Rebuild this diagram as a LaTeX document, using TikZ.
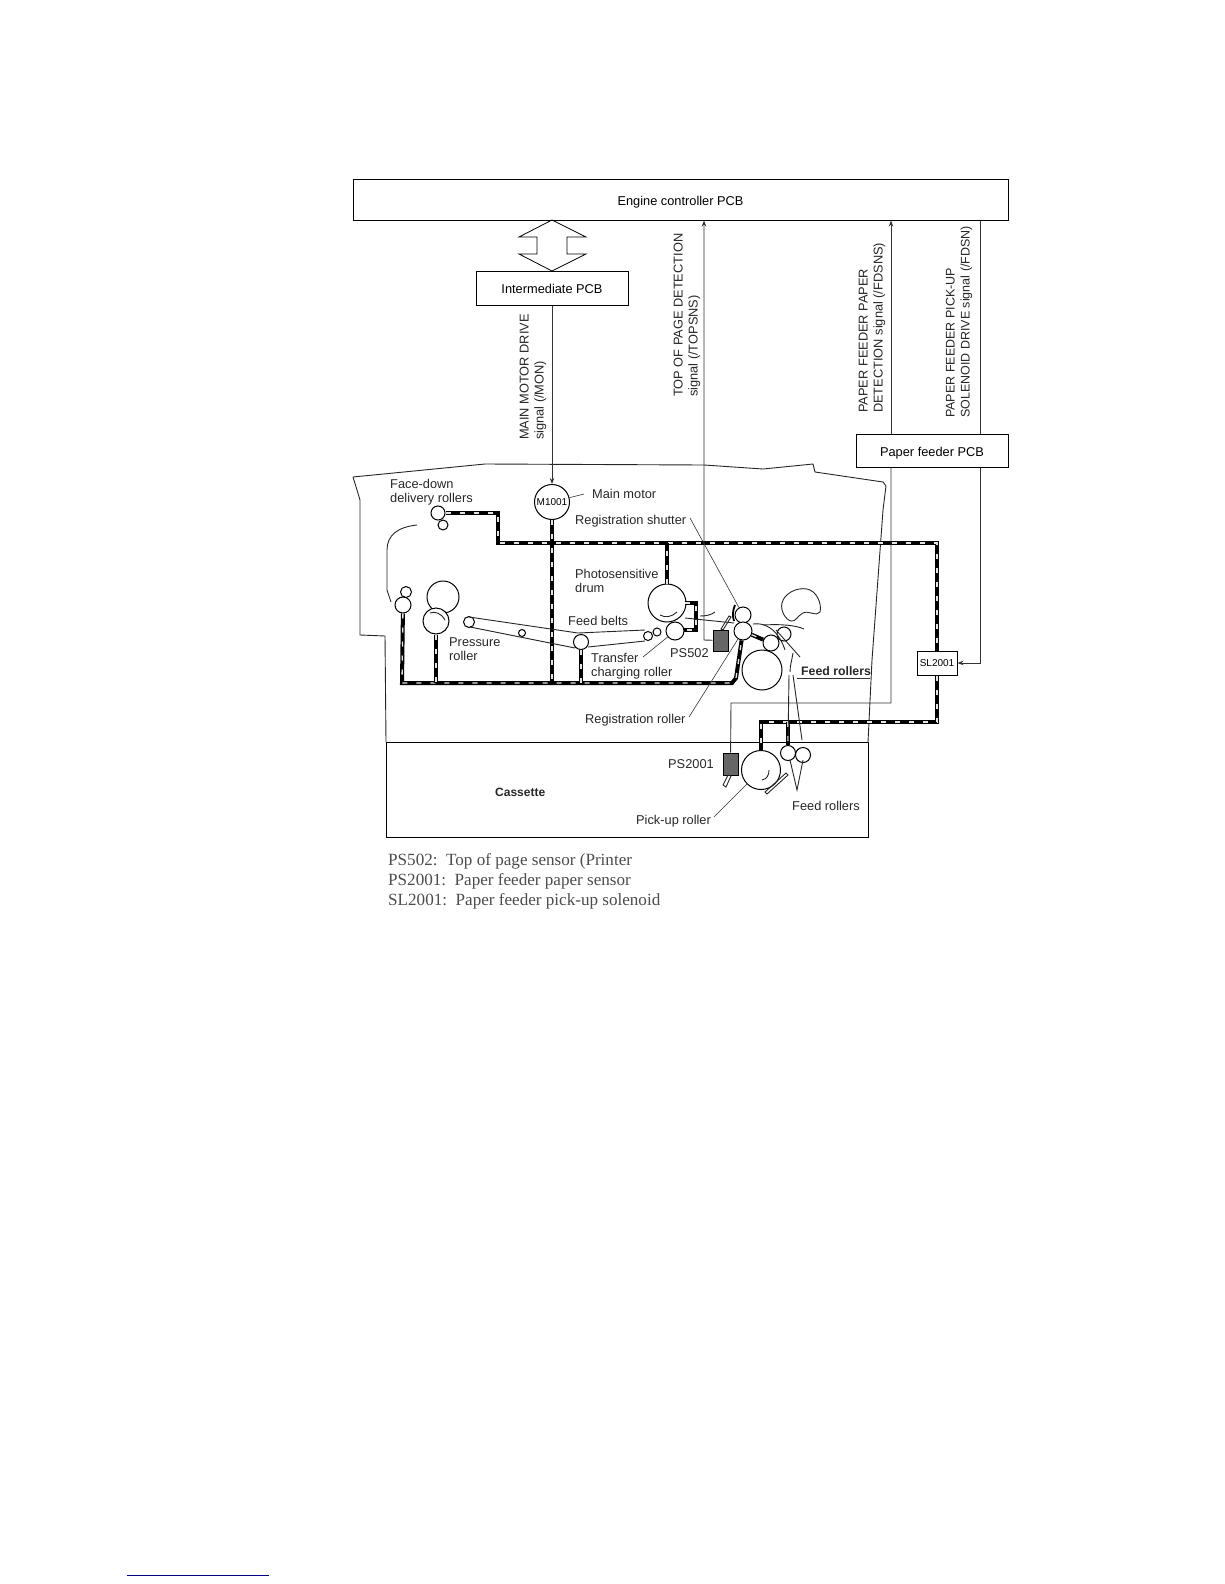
\documentclass[tikz,border=0pt]{standalone}
\usepackage{fontspec}
\setmainfont{Liberation Sans}
\newfontfamily\legendfont{Liberation Serif}
\usetikzlibrary{positioning, arrows.meta}
\tikzset{
	pcb/.style={draw, rectangle, line width=1pt, inner sep=0pt, fill=white, text height=11pt, text depth=0pt},
	to/.style={->, >={Stealth[length=6pt,width=4.5pt]}, line width=0.9pt, draw=black!80},
	lead/.style={line width=0.6pt, draw=black!80},
	wire/.style={line width=4pt, draw=black, line join=miter, postaction={draw=white!90!black, line width=1.3pt, dash pattern=on 5pt off 9pt}}
}

\begin{document}
\begin{tikzpicture}[
				x=1pt, y=-1pt,
				font=\fontsize{12.8}{14}\selectfont,
				roller/.style={draw, circle, inner sep=0pt, line width=1pt, fill=white},
				lab/.style={anchor=west, inner sep=0pt, align=left, text=black!85},
				sig/.style={rotate=90, anchor=west, inner sep=0pt, align=left, text=black!85, font=\fontsize{12.8}{15}\selectfont},
				sensor/.style={draw, rectangle, inner sep=0pt, fill=black!60, line width=0.9pt},
				guide/.style={line width=0.9pt, draw=black!85}
				]
				\useasboundingbox (0,0) rectangle (1224,1584);
				
				% boards
				\node[pcb, minimum width=655pt, minimum height=41pt] (engine) at (680.5,199.5) {Engine controller PCB};
				\node[pcb, minimum width=152pt, minimum height=34pt] (ipcb) at (552,288) {Intermediate PCB};
				\node[pcb, minimum width=152pt, minimum height=33pt] (fpcb) at (932,450.5) {Paper feeder PCB};
				\node[pcb, minimum width=40pt, minimum height=24pt, text height=7pt, font=\fontsize{10}{12}\selectfont] (sol) at (937,663) {SL2001};
				
				% printer body and cassette
				\draw[guide] (353,477) -- (485,464) -- (704,465) -- (763,469) -- (813,464) -- (815,472) -- (883,482) -- (886,486) -- (883,510) -- (872,660) -- (868,742);
				\draw[guide] (353,477) -- (357,490) -- (360,500) -- (360,635) -- (385,636) -- (386,742);
				\node[draw, rectangle, inner sep=0pt, line width=1pt, minimum width=482pt, minimum height=95pt] (cassette) at (627,789.5) {};
				
				% rollers
				\node[roller, minimum size=35pt, font=\fontsize{10}{11}\selectfont] (motor) at (552,502) {M1001};
				\node[roller, minimum size=14pt] (deliva) at (438,513) {};
				\node[roller, minimum size=10pt] (delivb) at (443,525) {};
				\node[roller, minimum size=11pt] (exitb) at (406,592) {};
				\node[roller, minimum size=16pt] (exita) at (403,605) {};
				\node[roller, minimum size=32pt] (fuser) at (443,597) {};
				\node[roller, minimum size=26pt] (press) at (436,621) {};
				\node[roller, minimum size=38pt] (drum) at (667,603) {};
				\node[roller, minimum size=18pt] (trans) at (675,631) {};
				\node[roller, minimum size=11pt] (beltl) at (469,622) {};
				\node[roller, minimum size=7pt] (beltm) at (522,633) {};
				\node[roller, minimum size=15pt] (beltd) at (581,642) {};
				\node[roller, minimum size=9pt] (beltr) at (648,636) {};
				\node[roller, minimum size=8pt] (beltq) at (657,632) {};
				\node[roller, minimum size=16pt] (rega) at (743,615) {};
				\node[roller, minimum size=18pt] (regb) at (743,631) {};
				\node[roller, minimum size=16pt] (feeda) at (771,643) {};
				\node[roller, minimum size=14pt] (feedb) at (784,634) {};
				\node[roller, minimum size=40pt] (cam) at (762,670) {};
				\node[roller, minimum size=39pt] (pick) at (761,770) {};
				\node[roller, minimum size=15pt] (feedc) at (788,753) {};
				\node[roller, minimum size=15pt] (feedd) at (803,755) {};
				
				% sensors
				\node[sensor, minimum width=15pt, minimum height=21pt] (ps502) at (720.5,640.5) {};
				\node[sensor, minimum width=15pt, minimum height=22pt] (ps2001) at (730.5,764) {};
				
				% bend points
				\coordinate (topl) at (498,543);
				\coordinate (topd) at (667,543);
				\coordinate (topr) at (937,543);
				\coordinate (botl) at (402,683);
				\coordinate (botp) at (436,683);
				\coordinate (botm) at (552,683);
				\coordinate (botd) at (581,683);
				\coordinate (botr) at (732,683);
				\coordinate (lowr) at (937,722);
				\coordinate (lowf) at (788,722);
				\coordinate (lowp) at (761,722);
				\coordinate (topsns) at (704,640);
				\coordinate (fdsnsa) at (891,703);
				\coordinate (fdsnsb) at (731,703);
				\coordinate (fdsna) at (980,663);
				
				% drive trains
				\draw[wire] (deliva) -- (498,513) -- (topl) -- (topr) -- (sol);
				\draw[wire] (motor) -- (botm);
				\draw[wire] (drum) -- (topd);
				\draw[wire] (exita) -- (botl) -- (botr) -- (736,678) -- (regb);
				\draw[wire] (press) -- (botp);
				\draw[wire] (beltd) -- (botd);
				\draw[wire] (regb) -- (feeda);
				\draw[wire] (685,603) -- (696,603) -- (696,630) -- (684,630);
				\draw[wire] (sol) -- (lowr) -- (lowp) -- (pick);
				\draw[wire] (lowf) -- (feedc);
				
				% signals
				\draw[to] (ipcb) -- (motor);
				\draw[to, <-] (engine.south -| topsns) -- (topsns) -- (ps502);
				\draw[to, <-] (engine.south -| fdsnsa) -- (fpcb.north -| fdsnsa);
				\draw[to, -] (fpcb.south -| fdsnsa) -- (fdsnsa) -- (fdsnsb) -- (ps2001);
				\draw[to, -] (engine.south -| fdsna) -- (fpcb.north -| fdsna);
				\draw[to] (fpcb.south -| fdsna) -- (fdsna) -- (sol);
				\draw[line width=0.8pt, line join=miter] (552,220) -- (586,237) -- (567,237) -- (567,254) -- (586,254) -- (552,271) -- (519,254) -- (537,254) -- (537,237) -- (519,237) -- cycle;
				
				% belts, guides and paper path
				\draw[guide] (469,617) -- (578,633) -- (645,630);
				\draw[guide] (470,627) -- (575,648);
				\draw[guide] (588,647) -- (645,641);
				\draw[guide] (417,525) .. controls (398,527) and (387,535) .. (387,550) -- (387,590) -- (391,602);
				\draw[guide] (685,618) -- (734,623);
				\draw[guide] (700,616) .. controls (706,616) and (711,615) .. (715,612);
				\draw[guide] (721,629) -- (729,616) -- (731,617) -- (723,630) -- cycle;
				\draw[line width=1.8pt] (735,605) .. controls (733,610) and (732,615) .. (734,621);
				\draw[guide] (782,603) .. controls (784,594) and (796,587) .. (807,589) .. controls (817,591) and (822,604) .. (820,612) .. controls (817,617) and (808,610) .. (803,613) .. controls (797,616) and (796,622) .. (791,621) .. controls (786,620) and (780,611) .. (782,603);
				\draw[guide] (753,624) .. controls (770,622) and (780,635) .. (785,650);
				\draw[guide] (763,625) .. controls (780,624) and (795,625) .. (804,629);
				\draw[guide] (776,630) -- (800,657);
				\draw[guide] (793,653) .. controls (792,660) and (790,665) .. (790,672);
				\draw[guide] (789,675) -- (788,743);
				\draw[guide] (793,675) -- (802,740);
				\draw[guide] (790,760) -- (797,790) -- (803,760);
				\draw[guide] (765,792) -- (786,773) -- (788,775) -- (767,794) -- cycle;
				\draw[guide] (723,785) -- (728,775) -- (731,776) -- (726,787) -- cycle;
				\draw[guide] (660,615) .. controls (665,618) and (672,617) .. (677,612);
				\draw[guide] (762,780) .. controls (767,779) and (769,775) .. (769,770);
				\draw[guide] (430,613) .. controls (435,611) and (441,613) .. (445,620);
				
				% leader lines
				\draw[lead] (motor) -- (584,494);
				\draw[lead] (690,518) -- (rega);
				\draw[lead] (643,657) -- (trans);
				\draw[lead] (689,717) -- (regb);
				\draw[lead] (714,817) -- (pick);
				\draw[lead] (797,678) -- (870,678);
				
				% labels
				\node[lab] (lface) at (390,492) {Face-down\\delivery rollers};
				\node[lab] (lmotor) at (592,494) {Main motor};
				\node[lab] (lshut) at (575,521) {Registration shutter};
				\node[lab] (ldrum) at (575,581) {Photosensitive\\drum};
				\node[lab] (lbelt) at (568,621) {Feed belts};
				\node[lab] (lpress) at (449,649) {Pressure\\roller};
				\node[lab] (ltrans) at (591,666) {Transfer\\charging roller};
				\node[lab] (lps502) at (670,653) {PS502};
				\node[lab, font=\fontsize{12.3}{14}\bfseries\selectfont] (lfeeda) at (801,671) {Feed rollers};
				\node[lab] (lreg) at (585,720) {Registration roller};
				\node[lab] (lps2001) at (668,764) {PS2001};
				\node[lab, font=\fontsize{12}{14}\bfseries\selectfont] (lcass) at (495,792) {Cassette};
				\node[lab] (lpick) at (636,821) {Pick-up roller};
				\node[lab] (lfeedb) at (792,806) {Feed rollers};
				
				\node[sig] (smon) at (533,440) {MAIN MOTOR DRIVE\\signal (/MON)};
				\node[sig] (stop) at (687,397) {TOP OF PAGE DETECTION\\signal (/TOPSNS)};
				\node[sig] (sfds) at (872,413) {PAPER FEEDER PAPER\\DETECTION signal (/FDSNS)};
				\node[sig, font=\fontsize{12.5}{15}\selectfont] (sfdn) at (959,418) {PAPER FEEDER PICK-UP\\SOLENOID DRIVE signal (/FDSN)};
				
				\node[lab, font=\legendfont\fontsize{17.1}{20}\selectfont, text=black!70] (legend) at (388,881) {PS502:\ \ Top of page sensor (Printer\\PS2001:\ \ Paper feeder paper sensor\\SL2001:\ \ Paper feeder pick-up solenoid};
				
				% rule at the foot of the page
				\coordinate (rulel) at (127,1575);
				\coordinate (ruler) at (269,1575);
				\draw[line width=1pt, draw=blue!50!black] (rulel) -- (ruler);
				
			\end{tikzpicture}
\end{document}
